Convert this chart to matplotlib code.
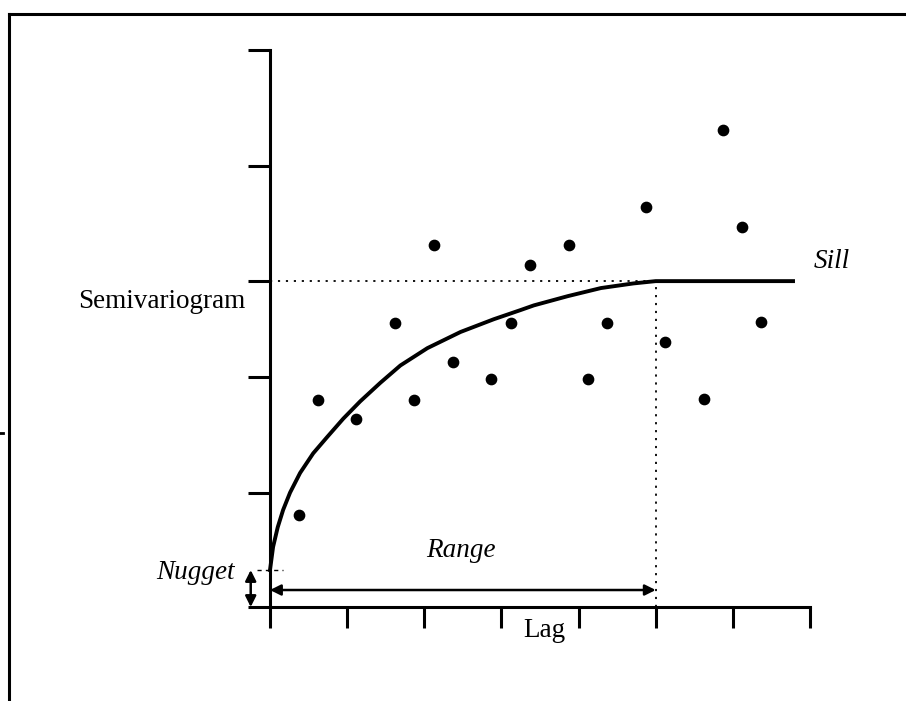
import numpy as np
import matplotlib
matplotlib.use('Agg')
import matplotlib.pyplot as plt
from matplotlib.lines import Line2D

plt.rcParams['font.family'] = ['Liberation Serif', 'DejaVu Serif']

# empirical semivariogram points (lag, semivariance)
lag_pts = [0.37, 0.62, 1.12, 1.62, 1.87, 2.12, 2.37, 2.87, 3.12, 3.37,
           3.87, 4.12, 4.37, 4.87, 5.12, 5.62, 5.87, 6.12, 6.37]
gamma_pts = [0.80, 1.79, 1.63, 2.46, 1.79, 3.13, 2.12, 1.97, 2.46, 2.96,
             3.13, 1.97, 2.46, 3.46, 2.29, 1.80, 4.13, 3.29, 2.47]

curve_x = [0.0, 0.04, 0.10, 0.17, 0.26, 0.39, 0.56, 0.74, 0.95, 1.17, 1.43,
           1.69, 2.04, 2.47, 2.90, 3.25, 3.42, 3.86, 4.29, 4.71, 5.0, 6.78]
curve_y = [0.32, 0.52, 0.69, 0.84, 0.99, 1.16, 1.33, 1.47, 1.63, 1.78, 1.94,
           2.09, 2.24, 2.38, 2.49, 2.57, 2.61, 2.69, 2.76, 2.80, 2.82, 2.82]

sill = 2.82
nugget = 0.32
rng = 5.0
x_ticks = [0, 1, 2, 3, 4, 5, 6, 7]
y_ticks = [0, 0.99, 1.99, 2.82, 3.82, 4.82]

fig = plt.figure(figsize=(9.06, 7.01), dpi=100)
ax = fig.add_axes([270 / 906, 1 - 607 / 701, 540 / 906, 557 / 701])
ax.set_xlim(0, 7)
ax.set_ylim(0, 4.82)

for s in ['top', 'right']:
    ax.spines[s].set_visible(False)
for s in ['left', 'bottom']:
    ax.spines[s].set_linewidth(2.2)
    ax.spines[s].set_capstyle('projecting')

ax.set_xticks(x_ticks)
ax.set_yticks(y_ticks)
ax.set_xticklabels([])
ax.set_yticklabels([])
ax.tick_params(axis='y', direction='out', length=15.8, width=2.2)
ax.tick_params(axis='x', direction='out', length=15, width=2.2)

# sill and range guides
ax.plot([0, rng], [sill, sill], color='black', lw=1.3, ls=(0, (1.2, 3.2)))
ax.plot([rng, rng], [0, sill], color='black', lw=1.3, ls=(0, (1.2, 3.2)))
ax.plot([-0.17, 0.17], [nugget, nugget], color='black', lw=1.0,
        ls=(0, (3, 3)), clip_on=False)

ax.plot(curve_x, curve_y, color='black', lw=2.8, solid_joinstyle='round',
        clip_on=False)
ax.scatter(lag_pts, gamma_pts, s=55, color='black', zorder=5, clip_on=False)

# arrows
ax.annotate('', xy=(rng, 0.147), xytext=(0, 0.147),
            arrowprops=dict(arrowstyle='<|-|>', lw=1.8, color='black',
                            shrinkA=0, shrinkB=0, mutation_scale=16))
ax.annotate('', xy=(-0.25, nugget), xytext=(-0.25, 0),
            arrowprops=dict(arrowstyle='<|-|>', lw=1.8, color='black',
                            shrinkA=0, shrinkB=0, mutation_scale=16),
            annotation_clip=False)

fs = 19.5
ax.text(-0.32, 2.64, 'Semivariogram', ha='right', va='center', fontsize=fs)
ax.text(7.05, 2.99, 'Sill', ha='left', va='center', fontsize=fs, style='italic')
ax.text(2.48, 0.49, 'Range', ha='center', va='center', fontsize=fs,
        style='italic')
ax.text(-0.46, 0.30, 'Nugget', ha='right', va='center', fontsize=fs,
        style='italic')
ax.text(3.56, -0.20, 'Lag', ha='center', va='center', fontsize=fs)

# outer frame (only left and top edges show)
fig.add_artist(Line2D([9 / 906, 9 / 906], [0, 1 - 14 / 701], color='black',
                      lw=2.2, solid_capstyle='projecting'))
fig.add_artist(Line2D([9 / 906, 1], [1 - 14 / 701, 1 - 14 / 701],
                      color='black', lw=2.2, solid_capstyle='projecting'))
fig.add_artist(Line2D([0, 3 / 906], [1 - 433 / 701, 1 - 433 / 701],
                      color='black', lw=2))

fig.savefig('out.png', dpi=100)
